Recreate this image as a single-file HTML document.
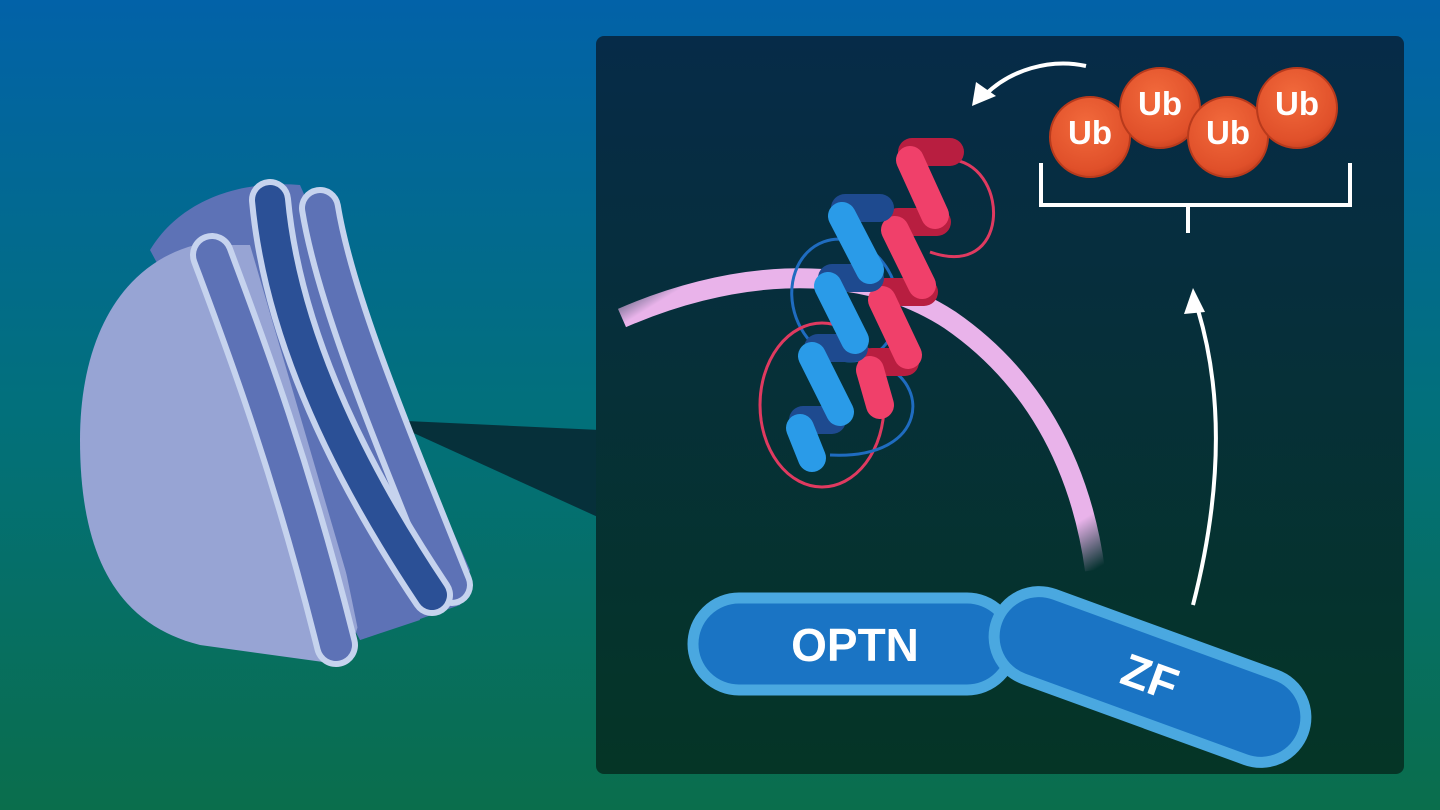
<!DOCTYPE html>
<html><head><meta charset="utf-8"><style>
html,body{margin:0;padding:0;width:1440px;height:810px;overflow:hidden}
svg{display:block}
text{font-family:"Liberation Sans",sans-serif;font-weight:bold;fill:#fff}
</style></head><body>
<svg width="1440" height="810" viewBox="0 0 1440 810" xmlns="http://www.w3.org/2000/svg">
<defs>
<linearGradient id="bg" x1="0" y1="0" x2="0" y2="1">
<stop offset="0" stop-color="#0262a8"/><stop offset="0.5" stop-color="#02707c"/><stop offset="1" stop-color="#0a6e4c"/>
</linearGradient>
<linearGradient id="pn" x1="0" y1="0" x2="0" y2="1">
<stop offset="0" stop-color="#062b48"/><stop offset="1" stop-color="#053526"/>
</linearGradient>
<radialGradient id="ub" cx="0.45" cy="0.35" r="0.7">
<stop offset="0" stop-color="#f26a3c"/><stop offset="0.8" stop-color="#e0502a"/><stop offset="1" stop-color="#c63f1e"/>
</radialGradient>
<linearGradient id="mem" x1="0" y1="0" x2="1" y2="1">
<stop offset="0" stop-color="#e9b3ea" stop-opacity="0"/><stop offset="0.08" stop-color="#e9b3ea"/><stop offset="0.9" stop-color="#e9b3ea"/><stop offset="1" stop-color="#e9b3ea" stop-opacity="0"/>
</linearGradient>
</defs>
<rect width="1440" height="810" fill="url(#bg)"/>
<polygon points="385,420 600,430 600,518" fill="#06303a"/>
<rect x="596" y="36" width="808" height="738" rx="8" fill="url(#pn)"/>

<path d="M150,250 C180,200 240,180 300,185 L470,570 L460,605 L360,640 Z" fill="#5d72b6"/>
<path d="M195,245 C120,265 80,340 80,440 C80,560 120,625 200,645 L345,665 L360,620 L250,245 Z" fill="#97a4d4"/>
<path d="M250,245 C290,330 320,440 360,640 L420,620 L300,200 Z" fill="#5d72b6"/>
<path d="M300,205 C330,320 380,450 430,590 L455,590 L330,195 Z" fill="#97a4d4"/>
<g fill="none" stroke-linecap="round">
<path d="M212,255 C240,330 290,460 336,645" stroke="#c6d3ee" stroke-width="44"/>
<path d="M212,255 C240,330 290,460 336,645" stroke="#5d72b6" stroke-width="32"/>
<path d="M320,208 C335,300 390,430 452,585" stroke="#c6d3ee" stroke-width="42"/>
<path d="M320,208 C335,300 390,430 452,585" stroke="#5d72b6" stroke-width="30"/>
<path d="M270,200 C282,330 345,465 432,595" stroke="#c6d3ee" stroke-width="42"/>
<path d="M270,200 C282,330 345,465 432,595" stroke="#2b5096" stroke-width="30"/>
</g>

<path d="M622,318 C720,275 850,255 950,320 C1030,375 1080,460 1095,570" fill="none" stroke="url(#mem)" stroke-width="20"/>

<g fill="none" stroke-width="3">
<ellipse cx="845" cy="300" rx="52" ry="62" stroke="#1f6cc0" transform="rotate(-20 845 300)"/>
<ellipse cx="822" cy="405" rx="62" ry="82" stroke="#e03a60"/>
<path d="M955,160 C1010,170 1010,280 930,252" stroke="#e03a60"/>
<path d="M880,365 C930,380 930,460 830,455" stroke="#1f6cc0"/>
</g>
<g stroke-linecap="round" fill="none" stroke-width="28">
<g stroke="#b81e40">
<line x1="912" y1="152" x2="950" y2="152"/><line x1="898" y1="222" x2="937" y2="222"/>
<line x1="885" y1="292" x2="924" y2="292"/><line x1="872" y1="362" x2="905" y2="362"/>
</g>
<g stroke="#f0406a">
<line x1="910" y1="160" x2="935" y2="215"/><line x1="895" y1="230" x2="922" y2="285"/>
<line x1="882" y1="300" x2="908" y2="355"/><line x1="870" y1="370" x2="880" y2="405"/>
</g>
<g stroke="#1e4a8f">
<line x1="845" y1="208" x2="880" y2="208"/><line x1="832" y1="278" x2="870" y2="278"/>
<line x1="818" y1="348" x2="854" y2="348"/><line x1="803" y1="420" x2="832" y2="420"/>
</g>
<g stroke="#2a9be8">
<line x1="842" y1="216" x2="870" y2="270"/><line x1="828" y1="286" x2="855" y2="340"/>
<line x1="812" y1="356" x2="840" y2="412"/><line x1="800" y1="428" x2="812" y2="458"/>
</g>
</g>

<g stroke="#b83a1c" stroke-width="2">
<circle cx="1090" cy="137" r="40" fill="url(#ub)"/>
<circle cx="1160" cy="108" r="40" fill="url(#ub)"/>
<circle cx="1228" cy="137" r="40" fill="url(#ub)"/>
<circle cx="1297" cy="108" r="40" fill="url(#ub)"/>
</g>
<g font-size="33" text-anchor="middle">
<text x="1090" y="144">Ub</text><text x="1160" y="115">Ub</text>
<text x="1228" y="144">Ub</text><text x="1297" y="115">Ub</text>
</g>
<path d="M1041,163 V205 H1350 V163 M1188,205 V233" fill="none" stroke="#fff" stroke-width="4"/>

<path d="M1086,66 C1050,58 1010,70 985,95" fill="none" stroke="#fff" stroke-width="4"/>
<polygon points="972,106 976,82 996,96" fill="#fff"/>
<path d="M1193,605 C1220,500 1225,400 1198,310" fill="none" stroke="#fff" stroke-width="4"/>
<polygon points="1193,288 1184,314 1205,312" fill="#fff"/>

<rect x="693" y="598" width="320" height="92" rx="46" fill="#1a74c4" stroke="#4aa8e0" stroke-width="11"/>
<text x="855" y="661" font-size="46" text-anchor="middle">OPTN</text>
<g transform="translate(1150,677) rotate(20)">
<rect x="-163" y="-45" width="326" height="90" rx="45" fill="#1a74c4" stroke="#4aa8e0" stroke-width="11"/>
<text x="0" y="16" font-size="46" text-anchor="middle">ZF</text>
</g>
</svg>
</body></html>
